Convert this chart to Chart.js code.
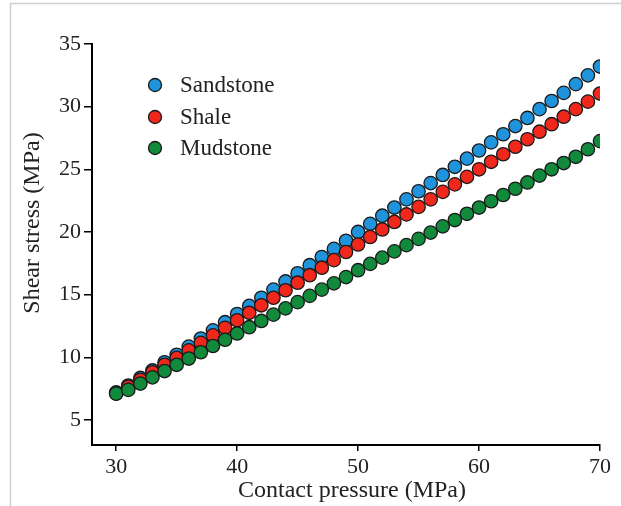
<!DOCTYPE html>
<html>
<head>
<meta charset="utf-8">
<script src="https://cdn.jsdelivr.net/npm/chart.js@4.4.1/dist/chart.umd.min.js"></script>
<style>
html,body{margin:0;padding:0;background:#fff;}
#wrap{position:relative;width:621px;height:506px;}
</style>
</head>
<body>
<div id="wrap"><canvas id="c" width="621" height="506"></canvas></div>
<script>
const pressure = [30,31,32,33,34,35,36,37,38,39,40,41,42,43,44,45,46,47,48,49,50,51,52,53,54,55,56,57,58,59,60,61,62,63,64,65,66,67,68,69,70];
const sandstone = [7.2,7.75,8.35,8.95,9.6,10.2,10.85,11.5,12.15,12.8,13.45,14.1,14.75,15.4,16.05,16.7,17.35,18.0,18.65,19.3,20.0,20.65,21.3,21.95,22.6,23.25,23.9,24.55,25.2,25.85,26.5,27.15,27.8,28.45,29.1,29.8,30.45,31.1,31.8,32.5,33.2];
const shale = [7.1,7.65,8.2,8.8,9.4,9.95,10.55,11.15,11.75,12.35,12.95,13.55,14.15,14.75,15.35,15.95,16.55,17.15,17.75,18.4,19.0,19.6,20.2,20.8,21.4,22.0,22.6,23.2,23.8,24.4,25.0,25.6,26.2,26.8,27.4,28.0,28.6,29.2,29.8,30.4,31.05];
const mudstone = [7.1,7.4,7.9,8.4,8.9,9.4,9.9,10.4,10.9,11.4,11.9,12.4,12.9,13.4,13.9,14.4,14.9,15.4,15.9,16.4,16.95,17.45,17.95,18.45,18.95,19.45,19.95,20.45,20.95,21.45,21.95,22.45,22.95,23.45,23.95,24.5,25.0,25.5,26.0,26.6,27.25];
const seriesNames = ["Sandstone","Shale","Mudstone"];
const xTitle = "Contact pressure (MPa)";
const yTitle = "Shear stress (MPa)";

const colors = ["#1f93dc","#f0281c","#128a3c"];
const FONT = "'Liberation Serif', 'Times New Roman', serif";

function pts(ys){ return pressure.map((x,i)=>({x:x,y:ys[i]})); }

const framePlugin = {
  id:'frame',
  beforeDraw(chart){
    const ctx = chart.ctx;
    ctx.save();
    ctx.fillStyle = '#fff';
    ctx.fillRect(0,0,chart.width,chart.height);
    ctx.strokeStyle = '#cfcfcf';
    ctx.lineWidth = 1.5;
    ctx.beginPath();
    ctx.moveTo(10.5, chart.height);
    ctx.lineTo(10.5, 3.5);
    ctx.lineTo(chart.width, 3.5);
    ctx.stroke();
    ctx.restore();
  }
};

const labelPlugin = {
  id:'customLabels',
  afterDraw(chart){
    const ctx = chart.ctx;
    ctx.save();
    // legend
    const ys = [85,117,148];
    seriesNames.forEach((name,i)=>{
      ctx.beginPath();
      ctx.arc(155, ys[i], 6.5, 0, Math.PI*2);
      ctx.fillStyle = colors[i];
      ctx.fill();
      ctx.lineWidth = 1.3;
      ctx.strokeStyle = '#1a1a1a';
      ctx.stroke();
      ctx.fillStyle = '#222';
      ctx.font = "23px " + FONT;
      ctx.textBaseline = 'middle';
      ctx.textAlign = 'left';
      ctx.fillText(name, 180, ys[i]+1);
    });
    // axis titles
    ctx.fillStyle = '#222';
    ctx.textAlign = 'center';
    ctx.textBaseline = 'middle';
    ctx.font = "24px " + FONT;
    ctx.fillText(xTitle, 352, 491);
    ctx.translate(33, 223);
    ctx.rotate(-Math.PI/2);
    ctx.font = "24px " + FONT;
    ctx.fillText(yTitle, 0, 0);
    ctx.restore();
  }
};

const ds = (label, data, color, order) => ({
  label, data: pts(data), backgroundColor: color, borderColor: '#1a1a1a',
  borderWidth: 1.3, pointRadius: 6.7, pointHoverRadius: 6.7, showLine: false, order
});

new Chart(document.getElementById('c'), {
  type: 'scatter',
  data: {
    datasets: [
      ds(seriesNames[0], sandstone, colors[0], 2),
      ds(seriesNames[1], shale, colors[1], 1),
      ds(seriesNames[2], mudstone, colors[2], 0)
    ]
  },
  options: {
    responsive: false,
    animation: false,
    events: [],
    layout: { padding: { left: 10, right: 21, top: 44, bottom: 0 } },
    plugins: { legend: { display: false }, tooltip: { enabled: false } },
    scales: {
      x: {
        type: 'linear', min: 28, max: 70,
        afterFit: (s) => { s.height = 61; },
        ticks: { stepSize: 10, includeBounds: false, color: '#222', padding: 3,
                 font: { family: FONT, size: 22 }, maxRotation: 0 },
        grid: { display: true, drawOnChartArea: false, drawTicks: true, tickLength: 6, color: '#000', lineWidth: 1.5 },
        border: { display: true, color: '#000', width: 2 },
        title: { display: false }
      },
      y: {
        type: 'linear', min: 3, max: 35,
        afterFit: (s) => { s.width = 82; },
        ticks: { stepSize: 5, includeBounds: false, color: '#222', padding: 3,
                 font: { family: FONT, size: 22 } },
        grid: { display: true, drawOnChartArea: false, drawTicks: true, tickLength: 8, color: '#000', lineWidth: 1.5 },
        border: { display: true, color: '#000', width: 2 },
        title: { display: false }
      }
    }
  },
  plugins: [framePlugin, labelPlugin]
});
</script>
</body>
</html>
